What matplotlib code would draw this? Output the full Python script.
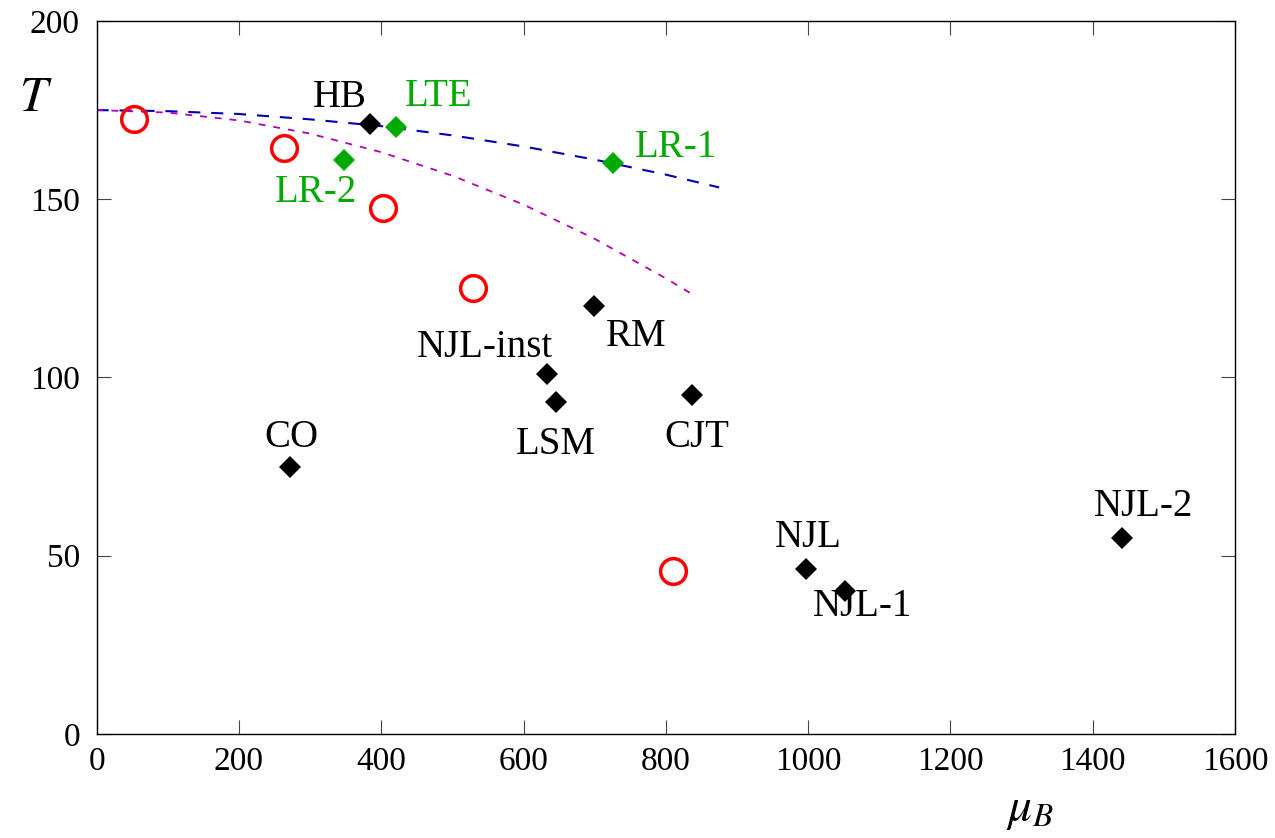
import matplotlib
matplotlib.use("Agg")
import matplotlib.pyplot as plt

plt.rcParams['font.family'] = ['Liberation Serif', 'DejaVu Serif']
plt.rcParams['mathtext.fontset'] = 'stix'

# critical end points from different approaches
lattice_mu = [52, 263, 402, 529, 810]
lattice_T = [172.5, 164.4, 147.5, 125.1, 45.7]

model_names = ['HB', 'RM', 'NJL-inst', 'LSM', 'CJT', 'CO', 'NJL', 'NJL-1', 'NJL-2']
model_mu = [384, 699, 633, 646, 837, 272, 997, 1052, 1441]
model_T = [171.1, 120.0, 101.0, 93.1, 95.1, 74.9, 46.3, 40.1, 55.0]

lat_names = ['LTE', 'LR-1', 'LR-2']
lat_mu = [421, 726, 348]
lat_T = [170.3, 160.2, 161.0]

# transition lines
line1_mu = [0, 100, 200, 300, 400, 500, 600, 700, 800, 875]
line1_T = [175.0, 174.7, 173.9, 172.4, 170.5, 167.9, 164.8, 161.1, 156.9, 153.3]
line2_mu = [0, 100, 200, 300, 400, 500, 600, 700, 800, 835]
line2_T = [175.0, 174.3, 172.1, 168.4, 163.2, 156.6, 148.5, 138.9, 127.8, 123.6]

# label positions
model_lab = [(342, 178.4), (758, 111.4), (546, 108.3), (646, 81.3), (844, 83.3),
             (274, 83.3), (1000, 55.2), (1077, 35.9), (1471, 63.7)]
lat_lab = [(481, 178.7), (815, 164.4), (308, 151.8)]

green = '#00aa00'

fig = plt.figure(figsize=(12.75, 8.38), dpi=100)
ax = fig.add_axes([0.0758, 0.1241, 0.8928, 0.8509])

ax.plot(line1_mu, line1_T, color='#0000b4', lw=1.5, dashes=(5.8, 5.2))
ax.plot(line2_mu, line2_T, color='#b400b4', lw=1.3, dashes=(3.8, 4.4))

ax.plot(lattice_mu, lattice_T, 'o', ms=18.5, mfc='none', mec='red', mew=2.5)
ax.plot(model_mu, model_T, 'D', ms=11.5, color='black', mew=0)
ax.plot(lat_mu, lat_T, 'D', ms=11.5, color=green, mew=0)

for name, (x, y) in zip(model_names, model_lab):
    ax.text(x, y, name, fontsize=28, ha='center', va='center', color='black')
for name, (x, y) in zip(lat_names, lat_lab):
    ax.text(x, y, name, fontsize=28, ha='center', va='center', color=green)

ax.set_xlim(0, 1600)
ax.set_ylim(0, 200)
ax.set_xticks(range(0, 1601, 200))
ax.set_yticks(range(0, 201, 50))
ax.tick_params(direction='in', length=10, width=0.8, labelsize=24,
               top=True, right=True, color='#444444')
ax.tick_params(axis='y', pad=12)
ax.tick_params(axis='x', pad=9)
for s in ax.spines.values():
    s.set_linewidth(1.0)

fig.text(0.028, 0.882, '$T$', fontsize=36, ha='center', va='center')
fig.text(0.808, 0.033, r'$\mu_B$', fontsize=34, ha='center', va='center')

fig.savefig('out.png', dpi=100)
